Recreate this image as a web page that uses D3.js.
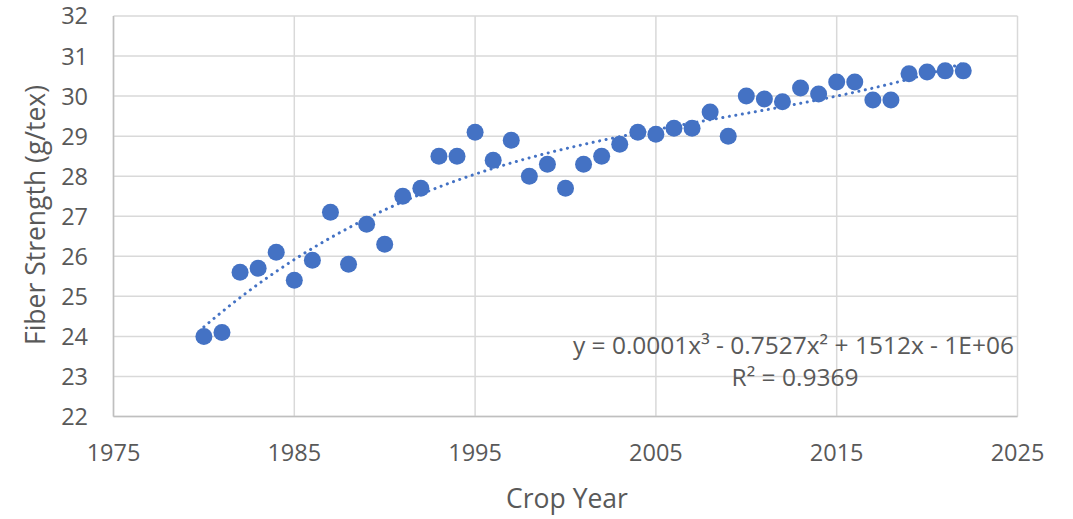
<!DOCTYPE html>
<html><head><meta charset="utf-8">
<script src="https://cdn.jsdelivr.net/npm/d3@7"></script>
<style>
html,body{margin:0;padding:0;background:#fff;}
text{font-family:"Open Sans",sans-serif;fill:#595959;}
</style></head>
<body><svg id="chart" width="1073" height="519"></svg>
<script>
const years = [1980,1981,1982,1983,1984,1985,1986,1987,1988,1989,1990,1991,1992,1993,1994,1995,1996,1997,1998,1999,2000,2001,2002,2003,2004,2005,2006,2007,2008,2009,2010,2011,2012,2013,2014,2015,2016,2017,2018,2019,2020,2021,2022];
const strength = [24.0,24.1,25.6,25.7,26.1,25.4,25.9,27.1,25.8,26.8,26.3,27.5,27.7,28.5,28.5,29.1,28.4,28.9,28.0,28.3,27.7,28.3,28.5,28.8,29.1,29.05,29.2,29.2,29.6,29.0,30.0,29.93,29.86,30.2,30.05,30.35,30.35,29.9,29.9,30.56,30.6,30.63,30.63];
const xTicks = [1975,1985,1995,2005,2015,2025];
const yTicks = [22,23,24,25,26,27,28,29,30,31,32];
const xTitle = "Crop Year";
const yTitle = "Fiber Strength (g/tex)";
const eqText = "y = 0.0001x³ - 0.7527x² + 1512x - 1E+06";
const r2Text = "R² = 0.9369";

(function(){
const svg = d3.select("#chart");
const pL = 113.5, pR = 1017.5, pT = 16, pB = 416.5;
const x = d3.scaleLinear().domain([1975,2025]).range([pL,pR]);
const y = d3.scaleLinear().domain([22,32]).range([pB,pT]);

svg.append("g").selectAll("line").data(yTicks).join("line")
  .attr("x1",pL).attr("x2",pR).attr("y1",d=>y(d)).attr("y2",d=>y(d))
  .attr("stroke","#d9d9d9").attr("stroke-width",1.5);
svg.append("g").selectAll("line").data(xTicks).join("line")
  .attr("y1",pT).attr("y2",pB).attr("x1",d=>x(d)).attr("x2",d=>x(d))
  .attr("stroke","#d9d9d9").attr("stroke-width",1.5);
svg.append("line").attr("x1",pL).attr("x2",pR).attr("y1",pB).attr("y2",pB).attr("stroke","#bfbfbf").attr("stroke-width",1.5);
svg.append("line").attr("x1",pL).attr("x2",pL).attr("y1",pT).attr("y2",pB).attr("stroke","#bfbfbf").attr("stroke-width",1.5);

svg.append("g").selectAll("text").data(yTicks).join("text")
  .attr("x",88).attr("y",d=>y(d)).attr("dy","0.36em").attr("text-anchor","end")
  .style("font-size","23.5px").text(d=>d);
svg.append("g").selectAll("text").data(xTicks).join("text")
  .attr("x",d=>x(d)).attr("y",453).attr("dy","0.36em").attr("text-anchor","middle")
  .style("font-size","23.5px").text(d=>d);
svg.append("text").attr("x",567).attr("y",498).attr("dy","0.36em").attr("text-anchor","middle")
  .style("font-size","26.5px").text(xTitle);
svg.append("text").attr("transform","translate(35,215) rotate(-90)").attr("dy","0.36em").attr("text-anchor","middle")
  .style("font-size","26.5px").text(yTitle);

const x0 = d3.mean(years);
function fitCubic(xs, ys){
  const n=4, A=[...Array(n)].map(()=>Array(n+1).fill(0));
  xs.forEach((xv,i)=>{const t=xv-x0; const p=[1,t,t*t,t*t*t];
    for(let r=0;r<n;r++){for(let c=0;c<n;c++)A[r][c]+=p[r]*p[c];A[r][n]+=p[r]*ys[i];}});
  for(let i=0;i<n;i++){let m=i;for(let k=i+1;k<n;k++)if(Math.abs(A[k][i])>Math.abs(A[m][i]))m=k;[A[i],A[m]]=[A[m],A[i]];
    for(let k=0;k<n;k++){if(k===i)continue;const fr=A[k][i]/A[i][i];for(let c=i;c<=n;c++)A[k][c]-=fr*A[i][c];}}
  return A.map((row,i)=>row[n]/row[i]);
}
const coef = fitCubic(years, strength);
const f = xv=>{const t=xv-x0;return coef[0]+coef[1]*t+coef[2]*t*t+coef[3]*t*t*t;};
const trendX = d3.range(d3.min(years), d3.max(years)+0.001, 0.25);
svg.append("path").datum(trendX)
  .attr("d", d3.line().x(d=>x(d)).y(d=>y(f(d))))
  .attr("fill","none").attr("stroke","#4472c4").attr("stroke-width",3)
  .attr("stroke-linecap","round").attr("stroke-dasharray","0.1 6.5");

svg.append("g").selectAll("circle").data(years).join("circle")
  .attr("cx",d=>x(d)).attr("cy",(d,i)=>y(strength[i])).attr("r",8.5)
  .attr("fill","#4472c4");

svg.append("text").attr("x",1014).attr("y",345).attr("dy","0.36em").attr("text-anchor","end")
  .style("font-size","24.5px").text(eqText);
svg.append("text").attr("x",795).attr("y",377).attr("dy","0.36em").attr("text-anchor","middle")
  .style("font-size","24.5px").text(r2Text);
})();
</script></body></html>
